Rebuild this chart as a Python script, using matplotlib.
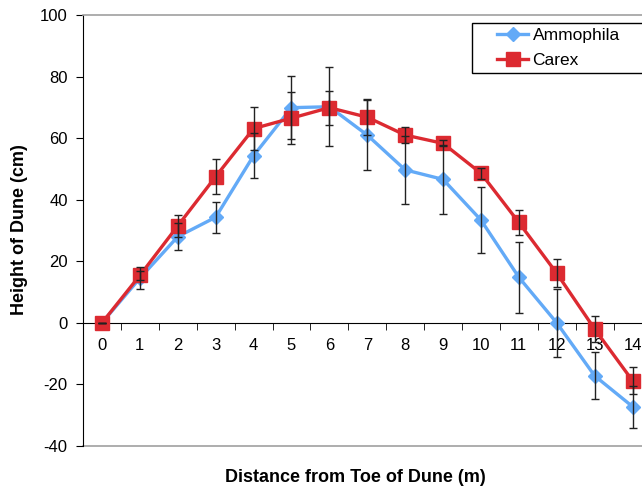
import matplotlib
matplotlib.use("Agg")
import matplotlib.pyplot as plt
from matplotlib.ticker import FixedLocator
from matplotlib.patches import Rectangle

plt.rcParams['font.family'] = ['Liberation Sans', 'DejaVu Sans']

distance = list(range(15))
ammophila = [0, 14.5, 28, 34.3, 54.3, 69.9, 70.2, 61.0, 49.7, 46.6, 33.4, 14.8, 0, -17.2, -27.2]
ammophila_err = [0, 3.5, 4.3, 5.1, 7.3, 10.2, 12.8, 11.3, 11.0, 11.2, 10.6, 11.5, 11.0, 7.6, 6.8]
carex = [0, 15.4, 31.5, 47.5, 63.1, 66.5, 69.9, 66.8, 61.0, 58.3, 48.6, 32.6, 16.1, -2.0, -18.8]
carex_err = [0, 1.5, 3.6, 5.6, 7.0, 8.4, 5.5, 5.9, 2.5, 1.0, 1.8, 4.0, 4.5, 4.3, 4.4]
yticks = [-40, -20, 0, 20, 40, 60, 80, 100]

W, H = 642, 491
fig = plt.figure(figsize=(W / 100, H / 100), dpi=100)
left, top, bottom = 83, 15, 446
xpix = 37.9
ax = fig.add_axes([left / W, (H - bottom) / H, 15 * xpix / W, (bottom - top) / H])

blue = '#63aaf7'
red = '#dc2a31'
ax.plot(distance, ammophila, color=blue, lw=2.4, marker='D', ms=7, mec=blue, label='Ammophila', zorder=3)
ax.plot(distance, carex, color=red, lw=2.4, marker='s', ms=9.5, mec=red, label='Carex', zorder=4)
ax.errorbar(distance, ammophila, yerr=ammophila_err, fmt='none', ecolor='#222222', elinewidth=1, capsize=3, capthick=1, zorder=5)
ax.errorbar(distance, carex, yerr=carex_err, fmt='none', ecolor='#222222', elinewidth=1, capsize=3, capthick=1, zorder=5)

ax.set_xlim(-0.5, 14.5)
ax.set_ylim(-40, 100)

ax.spines['right'].set_visible(False)
ax.spines['top'].set_color('#a0a0a0')
ax.spines['top'].set_linewidth(1.2)
ax.spines['left'].set_color('black')
ax.spines['bottom'].set_position(('data', 0))
ax.spines['bottom'].set_color('black')
ax.axhline(-40, color='#a0a0a0', lw=1.2, clip_on=False, zorder=1)

ax.set_xticks(distance)
ax.set_xticklabels([str(d) for d in distance])
ax.xaxis.set_minor_locator(FixedLocator([d + 0.5 for d in distance]))
ax.tick_params(axis='x', which='major', length=0, pad=11, labelsize=12)
ax.tick_params(axis='x', which='minor', length=5, direction='out', color='black')
ax.set_yticks(yticks)
ax.set_yticklabels([str(v) for v in yticks])
ax.tick_params(axis='y', length=5, direction='out', pad=6, labelsize=12)

fig.text(20 / W, 1 - 230 / H, 'Height of Dune (cm)', rotation=90, ha='center', va='center',
         fontsize=13, fontweight='bold')
fig.text(355 / W, 1 - 478 / H, 'Distance from Toe of Dune (m)', ha='center', va='center',
         fontsize=13, fontweight='bold')

# legend frame (extends past the right edge as in the reference)
frame = Rectangle((472 / W, 1 - 73 / H), 200 / W, 50 / H, transform=fig.transFigure,
                  fill=True, facecolor='white', edgecolor='black', lw=1, zorder=9, clip_on=False)
ax.add_artist(frame)
leg = ax.legend(loc='upper left', bbox_to_anchor=(497 / W, 1 - 28 / H), bbox_transform=fig.transFigure,
                fontsize=12.5, frameon=False, handlelength=1.8, borderpad=0,
                labelspacing=0.55, handletextpad=0.25, borderaxespad=0)
leg.set_zorder(10)

fig.savefig('out.png', dpi=100)
